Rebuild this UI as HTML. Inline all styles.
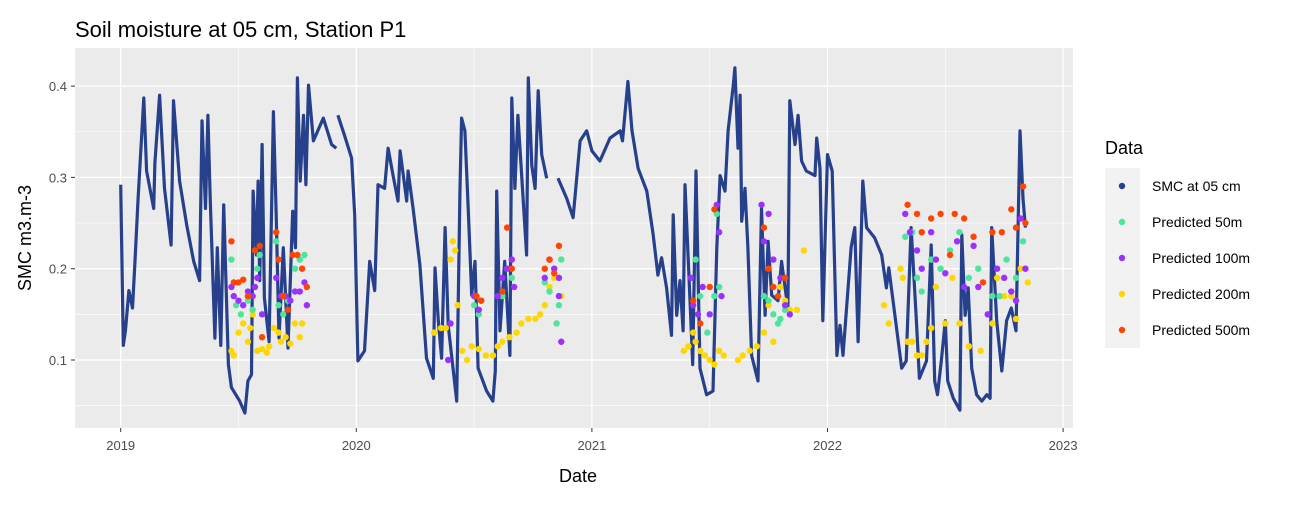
<!DOCTYPE html>
<html><head><meta charset="utf-8">
<style>
body{margin:0;background:#fff;font-family:"Liberation Sans",Arial,sans-serif}
svg text{font-family:"Liberation Sans",Arial,sans-serif}
</style></head>
<body>
<svg id="chart" width="1300" height="500" xmlns="http://www.w3.org/2000/svg">
<text x="75" y="37" font-size="22" fill="#000">Soil moisture at 05 cm, Station P1</text>
<rect x="75" y="48" width="998" height="380" fill="#ebebeb"/>
<g id="grid"></g>
<g id="marks"></g>
<g id="axes"></g>
<text x="578" y="482" font-size="18" text-anchor="middle">Date</text>
<text transform="translate(31,238) rotate(-90)" font-size="18" text-anchor="middle">SMC m3.m-3</text>
<g>
<text x="1105" y="154" font-size="18">Data</text>
<rect x="1105" y="168" width="35" height="180" fill="#f2f2f2"/>
<g id="legend"></g>
</g>
</svg>
<script>
const xTickLabels=["2019","2020","2021","2022","2023"];
const yTickLabels=["0.1","0.2","0.3","0.4"];
const yTickValues=[0.1,0.2,0.3,0.4];
// SMC observed: decimal years since 2019-01-01, value (null = gap)
const smcT=[0,0.011,0.02,0.035,0.05,0.06,0.074,0.098,0.11,0.14,0.145,0.165,0.186,0.214,0.224,0.25,0.28,0.31,0.335,0.345,0.36,0.37,0.38,0.40,0.41,0.425,0.437,0.457,0.47,0.505,0.527,0.54,0.555,0.562,0.576,0.583,0.59,0.60,0.61,0.63,0.648,0.66,0.672,0.69,0.71,0.73,0.742,0.75,0.762,0.776,0.786,0.797,0.818,0.86,0.895,0.915,0.918,0.922,0.95,0.98,0.993,1.007,1.035,1.057,1.078,1.092,1.12,1.135,1.156,1.177,1.186,1.214,1.22,1.241,1.27,1.298,1.327,1.334,1.348,1.362,1.377,1.39,1.426,1.44,1.447,1.461,1.475,1.49,1.504,1.517,1.553,1.58,1.59,1.596,1.61,1.63,1.652,1.66,1.673,1.686,1.708,1.723,1.73,1.745,1.759,1.772,1.787,1.808,1.83,1.856,1.893,1.92,1.95,1.978,2.0,2.034,2.077,2.12,2.13,2.153,2.17,2.196,2.233,2.26,2.28,2.296,2.317,2.338,2.345,2.36,2.374,2.387,2.395,2.416,2.428,2.442,2.459,2.487,2.514,2.53,2.544,2.565,2.578,2.6,2.607,2.62,2.629,2.636,2.65,2.662,2.678,2.705,2.72,2.735,2.748,2.763,2.79,2.805,2.82,2.832,2.84,2.862,2.875,2.89,2.91,2.947,2.954,2.968,2.98,3.0,3.02,3.04,3.053,3.066,3.10,3.116,3.13,3.15,3.166,3.2,3.23,3.25,3.26,3.286,3.315,3.334,3.355,3.376,3.39,3.42,3.44,3.455,3.467,3.483,3.5,3.51,3.534,3.562,3.57,3.584,3.597,3.612,3.633,3.655,3.676,3.69,3.697,3.718,3.74,3.76,3.78,3.80,3.817,3.83,3.84];
const smcV=[0.292,0.116,0.132,0.176,0.157,0.204,0.277,0.387,0.307,0.266,0.316,0.39,0.288,0.226,0.384,0.296,0.248,0.208,0.187,0.362,0.266,0.368,0.277,0.124,0.223,0.116,0.27,0.095,0.07,0.055,0.042,0.077,0.084,0.285,0.215,0.296,0.187,0.336,0.168,0.12,0.372,0.259,0.124,0.223,0.113,0.263,0.223,0.409,0.296,0.368,0.292,0.401,0.34,0.365,0.336,0.332,null,0.368,0.346,0.321,0.259,0.099,0.11,0.208,0.176,0.292,0.288,0.332,0.302,0.274,0.329,0.274,0.307,0.266,0.204,0.102,0.08,0.201,0.143,0.102,0.245,0.138,0.055,0.288,0.365,0.351,0.266,0.171,0.208,0.091,0.066,0.055,0.088,0.285,0.132,0.208,0.105,0.387,0.288,0.368,0.277,0.215,0.409,0.313,0.288,0.395,0.325,0.299,null,0.299,0.277,0.256,0.34,0.351,0.329,0.318,0.343,0.351,0.34,0.405,0.351,0.31,0.285,0.237,0.193,0.212,0.179,0.127,0.259,0.149,0.187,0.132,0.292,0.168,0.095,0.307,0.091,0.062,0.066,0.223,0.302,0.285,0.351,0.401,0.42,0.332,0.39,0.252,0.288,0.223,0.105,0.077,0.266,0.149,0.23,0.171,0.165,0.208,0.179,0.157,0.384,0.336,0.368,0.318,0.307,0.302,0.343,0.31,0.143,0.325,0.307,0.105,0.138,0.105,0.223,0.245,0.12,0.296,0.245,0.234,0.215,0.179,0.201,0.149,0.091,0.099,0.245,0.149,0.08,0.099,0.226,0.077,0.062,0.099,0.143,0.077,0.058,0.045,0.237,0.149,0.179,0.091,0.062,0.055,0.062,0.058,0.245,0.143,0.088,0.143,0.157,0.132,0.351,0.277,0.245];
const p50T=[0.47,0.49,0.51,0.54,0.56,0.58,0.59,0.66,0.67,0.69,0.71,0.74,0.76,0.78,1.50,1.52,1.62,1.64,1.66,1.80,1.82,1.84,1.86,1.87,1.85,2.44,2.46,2.49,2.52,2.53,2.54,2.73,2.75,2.77,2.79,2.80,2.82,3.33,3.36,3.38,3.40,3.44,3.48,3.52,3.56,3.60,3.64,3.70,3.73,3.76,3.80,3.83];
const p50V=[0.21,0.16,0.15,0.165,0.155,0.2,0.215,0.23,0.16,0.15,0.165,0.2,0.21,0.215,0.16,0.15,0.17,0.2,0.19,0.185,0.175,0.2,0.16,0.21,0.14,0.21,0.17,0.13,0.17,0.26,0.18,0.17,0.165,0.15,0.14,0.145,0.155,0.235,0.24,0.19,0.175,0.21,0.2,0.22,0.24,0.19,0.2,0.17,0.17,0.21,0.19,0.23];
const p100T=[0.47,0.48,0.50,0.52,0.54,0.56,0.57,0.58,0.60,0.66,0.68,0.70,0.72,0.74,0.76,0.78,0.79,1.40,1.39,1.50,1.52,1.53,1.60,1.62,1.64,1.66,1.67,1.80,1.82,1.84,1.86,1.87,1.86,2.42,2.43,2.45,2.47,2.50,2.53,2.54,2.55,2.72,2.73,2.75,2.77,2.80,2.82,2.84,3.33,3.35,3.38,3.40,3.44,3.46,3.50,3.55,3.58,3.62,3.64,3.68,3.72,3.75,3.78,3.80,3.82,3.84];
const p100V=[0.18,0.17,0.165,0.16,0.175,0.17,0.18,0.19,0.15,0.19,0.17,0.17,0.165,0.175,0.175,0.185,0.16,0.14,0.1,0.17,0.155,0.165,0.17,0.19,0.2,0.21,0.18,0.19,0.21,0.2,0.17,0.12,0.19,0.19,0.16,0.15,0.18,0.15,0.27,0.24,0.17,0.27,0.23,0.26,0.21,0.19,0.16,0.15,0.26,0.24,0.22,0.2,0.24,0.21,0.195,0.23,0.18,0.225,0.18,0.15,0.2,0.19,0.175,0.165,0.255,0.2];
const p200T=[0.47,0.48,0.50,0.52,0.54,0.55,0.56,0.58,0.60,0.62,0.63,0.65,0.67,0.68,0.70,0.72,0.74,0.76,0.77,1.33,1.36,1.38,1.40,1.41,1.42,1.43,1.45,1.47,1.49,1.52,1.55,1.58,1.60,1.62,1.65,1.68,1.70,1.73,1.76,1.78,1.80,1.82,1.84,1.86,1.87,2.39,2.41,2.43,2.44,2.46,2.48,2.50,2.52,2.54,2.56,2.62,2.64,2.67,2.70,2.73,2.75,2.77,2.80,2.82,2.84,2.87,2.90,3.24,3.26,3.31,3.32,3.34,3.36,3.38,3.40,3.42,3.44,3.46,3.50,3.53,3.56,3.60,3.65,3.70,3.72,3.75,3.78,3.80,3.82,3.85];
const p200V=[0.11,0.105,0.13,0.14,0.12,0.135,0.15,0.11,0.112,0.108,0.115,0.135,0.13,0.12,0.125,0.118,0.14,0.125,0.14,0.13,0.135,0.135,0.21,0.23,0.22,0.16,0.11,0.1,0.115,0.112,0.105,0.105,0.115,0.12,0.125,0.13,0.14,0.145,0.145,0.15,0.16,0.18,0.19,0.19,0.17,0.11,0.115,0.13,0.12,0.11,0.105,0.1,0.095,0.11,0.105,0.1,0.105,0.11,0.115,0.13,0.16,0.12,0.18,0.165,0.155,0.155,0.22,0.16,0.14,0.2,0.19,0.12,0.12,0.105,0.105,0.12,0.135,0.18,0.14,0.19,0.14,0.115,0.11,0.14,0.19,0.17,0.17,0.145,0.2,0.185];
const p500T=[0.47,0.48,0.50,0.52,0.54,0.57,0.59,0.60,0.66,0.67,0.69,0.71,0.73,0.75,0.77,0.79,1.51,1.53,1.62,1.64,1.66,1.80,1.82,1.84,1.86,2.43,2.46,2.50,2.52,2.73,2.75,2.77,2.79,2.82,3.34,3.38,3.40,3.44,3.48,3.52,3.54,3.58,3.62,3.66,3.70,3.74,3.78,3.80,3.83,3.84];
const p500V=[0.23,0.185,0.185,0.188,0.17,0.22,0.225,0.125,0.24,0.21,0.17,0.155,0.215,0.215,0.2,0.18,0.17,0.165,0.175,0.245,0.2,0.2,0.21,0.195,0.225,0.165,0.14,0.18,0.265,0.245,0.2,0.18,0.17,0.19,0.27,0.26,0.24,0.255,0.26,0.215,0.26,0.255,0.235,0.185,0.24,0.24,0.265,0.245,0.29,0.25];
const legendLabels=["SMC at 05 cm","Predicted 50m","Predicted 100m","Predicted 200m","Predicted 500m"];
const legendColors=["#27408b","#4ee59a","#9b30ff","#ffd700","#ff4500"];

const NS="http://www.w3.org/2000/svg";
const X0=120.7, PXY=235.6;
function xs(t){return X0+t*PXY;}
function ys(v){return 360-(v-0.1)*913;}
function mk(tag,attrs,parent){const e=document.createElementNS(NS,tag);for(const k in attrs)e.setAttribute(k,attrs[k]);parent.appendChild(e);return e;}
const grid=document.getElementById('grid'),marks=document.getElementById('marks'),axes=document.getElementById('axes'),legend=document.getElementById('legend');
for(let i=0;i<8;i++){const x=xs(i+0.5);if(x<1073){const l=mk('line',{x1:x,x2:x,y1:48,y2:428,stroke:'#fff','stroke-width':0.6},grid);}}
for(const v of [0.05,0.15,0.25,0.35]){const l=mk('line',{x1:75,x2:1073,y1:ys(v),y2:ys(v),stroke:'#fff','stroke-width':0.6},grid);}
xTickLabels.forEach((lab,i)=>{const x=xs(i);
 const l=mk('line',{x1:x,x2:x,y1:48,y2:428,stroke:'#fff','stroke-width':1.3},grid);
 const tk=mk('line',{x1:x,x2:x,y1:428,y2:432,stroke:'#333','stroke-width':1},axes);
 const t=mk('text',{x:x,y:450,'font-size':13,fill:'#4d4d4d','text-anchor':'middle'},axes);t.textContent=lab;});
yTickValues.forEach((v,i)=>{const y=ys(v);
 const l=mk('line',{x1:75,x2:1073,y1:y,y2:y,stroke:'#fff','stroke-width':1.3},grid);
 const tk=mk('line',{x1:71,x2:75,y1:y,y2:y,stroke:'#333','stroke-width':1},axes);
 const t=mk('text',{x:67,y:y+5,'font-size':13,fill:'#4d4d4d','text-anchor':'end'},axes);t.textContent=yTickLabels[i];});
let d='',pen=false;
for(let i=0;i<smcT.length;i++){if(smcV[i]===null){pen=false;continue;}d+=(pen?'L':'M')+xs(smcT[i]).toFixed(1)+','+ys(smcV[i]).toFixed(1);pen=true;}
const line=mk('path',{d:d,fill:'none',stroke:legendColors[0],'stroke-width':3.2,'stroke-linejoin':'round'},marks);


const sets=[[p50T,p50V,legendColors[1],'predicted-50m-point'],[p100T,p100V,legendColors[2],'predicted-100m-point'],[p200T,p200V,legendColors[3],'predicted-200m-point'],[p500T,p500V,legendColors[4],'predicted-500m-point']];
const order=[2,0,1,3];
order.forEach(k=>{const s=sets[k];for(let i=0;i<s[0].length;i++){const c=mk('circle',{cx:xs(s[0][i]),cy:ys(s[1][i]),r:3.2,fill:s[2]},marks);}});
legendLabels.forEach((lab,i)=>{const y=186+i*36;
 const g=mk('g',{},legend);
 const c=mk('circle',{cx:1122,cy:y,r:3.2,fill:legendColors[i]},g);
 const t=mk('text',{x:1152,y:y+5,'font-size':14,fill:'#000'},g);t.textContent=lab;});
</script>
</body></html>
